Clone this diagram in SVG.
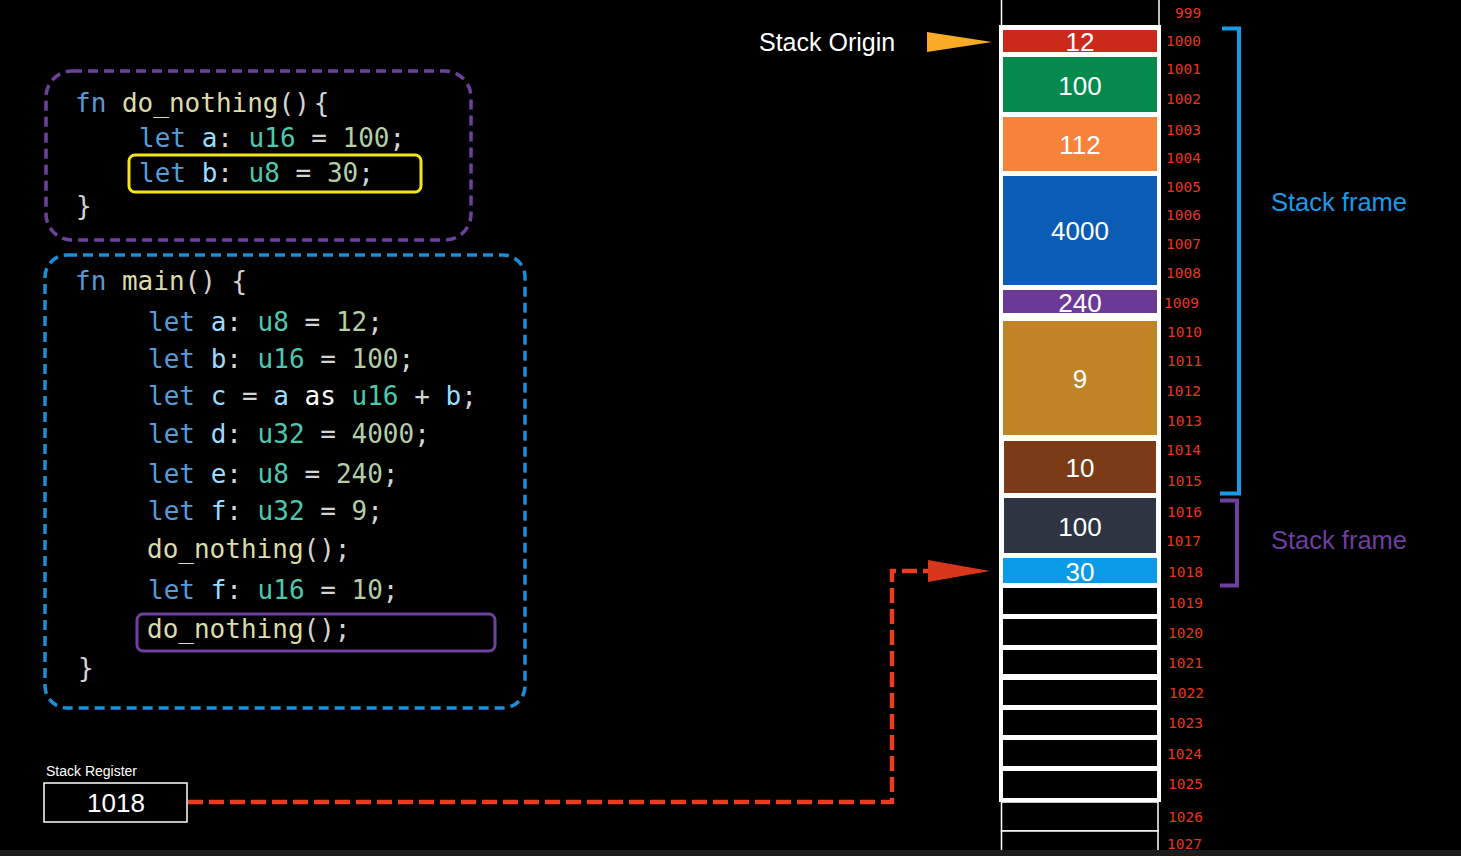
<svg xmlns="http://www.w3.org/2000/svg" width="1461" height="856" viewBox="0 0 1461 856">
<defs>
<style>
.code{font-family:"DejaVu Sans Mono","Liberation Mono",monospace;font-size:26px;fill:#d4d4d4}
.kw{fill:#569cd6}.fnn{fill:#dcdcaa}.var{fill:#9cdcfe}.ty{fill:#4ec9b0}.num{fill:#b5cea8}.as{fill:#ffffff}
.val{font-family:"Liberation Sans",Arial,sans-serif;font-size:26px;fill:#ffffff;text-anchor:middle}
.addr{font-family:"DejaVu Sans Mono","Liberation Mono",monospace;font-size:14.5px;fill:#e8361c}
.lbl{font-family:"Liberation Sans",Arial,sans-serif;fill:#ffffff}
.cellblk{fill:#000000}
</style>
<marker id="redhead" markerUnits="userSpaceOnUse" markerWidth="62" markerHeight="22" viewBox="0 0 62 22" refX="0" refY="11" orient="auto">
<path d="M0,0 L62,11 L0,22 Z" fill="#d8361c"/>
</marker>
</defs>
<rect width="1461" height="856" fill="#000000"/>

<g id="do_nothing-fn">
<rect x="46" y="71" width="425" height="169" rx="26" fill="none" stroke="#7040a0" stroke-width="3.5" stroke-dasharray="10 6"/>
<rect id="highlight-b" x="129" y="155" width="292" height="37" rx="6" fill="none" stroke="#f7e51c" stroke-width="3"/>
<text class="code" xml:space="preserve" x="75" y="112"><tspan class="kw">fn</tspan> <tspan class="fnn">do_nothing</tspan>()<tspan dx="4">{</tspan></text>
<text class="code" xml:space="preserve" x="139" y="147"><tspan class="kw">let</tspan> <tspan class="var">a</tspan>: <tspan class="ty">u16</tspan> = <tspan class="num">100</tspan>;</text>
<text class="code" xml:space="preserve" x="139" y="182"><tspan class="kw">let</tspan> <tspan class="var">b</tspan>: <tspan class="ty">u8</tspan> = <tspan class="num">30</tspan>;</text>
<text class="code" x="76" y="215">}</text>
</g>

<g id="main-fn">
<rect x="45" y="255" width="480" height="453" rx="22" fill="none" stroke="#1a8fdc" stroke-width="3.5" stroke-dasharray="10 6"/>
<rect id="highlight-call" x="137" y="614" width="358" height="37" rx="6" fill="none" stroke="#7040a0" stroke-width="3"/>
<text class="code" xml:space="preserve" x="75" y="290"><tspan class="kw">fn</tspan> <tspan class="fnn">main</tspan>() {</text>
<text class="code" xml:space="preserve" x="148" y="331"><tspan class="kw">let</tspan> <tspan class="var">a</tspan>: <tspan class="ty">u8</tspan> = <tspan class="num">12</tspan>;</text>
<text class="code" xml:space="preserve" x="148" y="368"><tspan class="kw">let</tspan> <tspan class="var">b</tspan>: <tspan class="ty">u16</tspan> = <tspan class="num">100</tspan>;</text>
<text class="code" xml:space="preserve" x="148" y="405"><tspan class="kw">let</tspan> <tspan class="var">c</tspan> = <tspan class="var">a</tspan> <tspan class="as">as</tspan> <tspan class="ty">u16</tspan> + <tspan class="var">b</tspan>;</text>
<text class="code" xml:space="preserve" x="148" y="443"><tspan class="kw">let</tspan> <tspan class="var">d</tspan>: <tspan class="ty">u32</tspan> = <tspan class="num">4000</tspan>;</text>
<text class="code" xml:space="preserve" x="148" y="483"><tspan class="kw">let</tspan> <tspan class="var">e</tspan>: <tspan class="ty">u8</tspan> = <tspan class="num">240</tspan>;</text>
<text class="code" xml:space="preserve" x="148" y="520"><tspan class="kw">let</tspan> <tspan class="var">f</tspan>: <tspan class="ty">u32</tspan> = <tspan class="num">9</tspan>;</text>
<text class="code" xml:space="preserve" x="147" y="558"><tspan class="fnn">do_nothing</tspan>();</text>
<text class="code" xml:space="preserve" x="148" y="599"><tspan class="kw">let</tspan> <tspan class="var">f</tspan>: <tspan class="ty">u16</tspan> = <tspan class="num">10</tspan>;</text>
<text class="code" xml:space="preserve" x="147" y="638"><tspan class="fnn">do_nothing</tspan>();</text>
<text class="code" x="78" y="677">}</text>
</g>

<g id="stack-register">
<text class="lbl" x="46" y="776" font-size="14">Stack Register</text>
<rect x="44" y="783" width="143" height="39" fill="#000000" stroke="#ffffff" stroke-width="1.5"/>
<text class="lbl" x="116" y="812" font-size="26" text-anchor="middle">1018</text>
</g>

<g id="stack-origin">
<text class="lbl" x="759" y="51" font-size="25">Stack Origin</text>
</g>

<g id="stack">
<g id="cell-999">
<line x1="1001.5" y1="0" x2="1001.5" y2="26" stroke="#ffffff" stroke-width="1.5"/>
<line x1="1159" y1="0" x2="1159" y2="26" stroke="#ffffff" stroke-width="1.5"/>
</g>
<rect id="stack-body" x="999" y="25" width="162" height="777" fill="#ffffff"/>
<g id="cell-a"><rect x="1003" y="30" width="154" height="22" fill="#cb2a1a"/><text class="val" x="1080" y="51">12</text></g>
<g id="cell-b"><rect x="1003" y="57" width="154" height="55" fill="#038a4c"/><text class="val" x="1080" y="95">100</text></g>
<g id="cell-c"><rect x="1003" y="117" width="154" height="54" fill="#f7823a"/><text class="val" x="1080" y="154">112</text></g>
<g id="cell-d"><rect x="1003" y="176" width="154" height="109" fill="#0b5cb5"/><text class="val" x="1080" y="240">4000</text></g>
<g id="cell-e"><rect x="1003" y="290" width="154" height="23" fill="#6b3a96"/><text class="val" x="1080" y="312">240</text></g>
<g id="cell-f"><rect x="1003" y="321" width="154" height="114" fill="#bf8426"/><text class="val" x="1080" y="388">9</text></g>
<g id="cell-f2"><rect x="1004" y="441" width="152" height="52" fill="#7b3b17"/><text class="val" x="1080" y="477">10</text></g>
<g id="cell-dn-a"><rect x="1004" y="498" width="152" height="55" fill="#2e3442"/><text class="val" x="1080" y="536">100</text></g>
<g id="cell-dn-b"><rect x="1003" y="558" width="154" height="25" fill="#0a9be8"/><text class="val" x="1080" y="581">30</text></g>
<g id="cell-1019"><rect class="cellblk" x="1003" y="588" width="154" height="26"/></g>
<g id="cell-1020"><rect class="cellblk" x="1003" y="619" width="154" height="26"/></g>
<g id="cell-1021"><rect class="cellblk" x="1003" y="650" width="154" height="24"/></g>
<g id="cell-1022"><rect class="cellblk" x="1003" y="680" width="154" height="25"/></g>
<g id="cell-1023"><rect class="cellblk" x="1003" y="710" width="154" height="25"/></g>
<g id="cell-1024"><rect class="cellblk" x="1003" y="740" width="154" height="26"/></g>
<g id="cell-1025"><rect class="cellblk" x="1003" y="771" width="154" height="27"/></g>
<g id="cell-1026"><rect x="1001.5" y="802" width="156.5" height="29" fill="#000000" stroke="#ffffff" stroke-width="1.5"/></g>
<g id="cell-1027"><rect x="1001.5" y="831" width="156.5" height="30" fill="#000000" stroke="#ffffff" stroke-width="1.5"/></g>
</g>

<g id="addresses">
<text class="addr" x="1175" y="18">999</text>
<text class="addr" x="1166" y="46">1000</text>
<text class="addr" x="1166" y="74">1001</text>
<text class="addr" x="1166" y="104">1002</text>
<text class="addr" x="1166" y="135">1003</text>
<text class="addr" x="1166" y="163">1004</text>
<text class="addr" x="1166" y="192">1005</text>
<text class="addr" x="1166" y="220">1006</text>
<text class="addr" x="1166" y="249">1007</text>
<text class="addr" x="1166" y="278">1008</text>
<text class="addr" x="1164" y="308">1009</text>
<text class="addr" x="1167" y="337">1010</text>
<text class="addr" x="1167" y="366">1011</text>
<text class="addr" x="1166" y="396">1012</text>
<text class="addr" x="1167" y="426">1013</text>
<text class="addr" x="1166" y="455">1014</text>
<text class="addr" x="1167" y="486">1015</text>
<text class="addr" x="1167" y="517">1016</text>
<text class="addr" x="1166" y="546">1017</text>
<text class="addr" x="1168" y="577">1018</text>
<text class="addr" x="1168" y="608">1019</text>
<text class="addr" x="1168" y="638">1020</text>
<text class="addr" x="1168" y="668">1021</text>
<text class="addr" x="1169" y="698">1022</text>
<text class="addr" x="1168" y="728">1023</text>
<text class="addr" x="1167" y="759">1024</text>
<text class="addr" x="1168" y="789">1025</text>
<text class="addr" x="1168" y="822">1026</text>
<text class="addr" x="1167" y="849">1027</text>
</g>

<g id="frame-main">
<path d="M1222,28.5 H1239 V493.5 H1220" fill="none" stroke="#1a9be8" stroke-width="4"/>
<text class="lbl" x="1271" y="211" font-size="25.5" style="fill:#1a9be8">Stack frame</text>
</g>
<g id="frame-do_nothing">
<path d="M1220,500.5 H1237 V585.5 H1220" fill="none" stroke="#6e3f9c" stroke-width="4"/>
<text class="lbl" x="1271" y="549" font-size="25.5" style="fill:#6e3f9c">Stack frame</text>
</g>

<g id="connectors">
<polygon id="origin-arrow" points="927,32 992,42 927,52" fill="#f9ab25"/>
<path id="sp-pointer" d="M188,802 H892 V571 H928" fill="none" stroke="#ea3c1f" stroke-width="4.5" stroke-dasharray="15 6" marker-end="url(#redhead)"/>
</g>

<rect x="0" y="850" width="1461" height="6" fill="#1c1c1c"/>
</svg>
